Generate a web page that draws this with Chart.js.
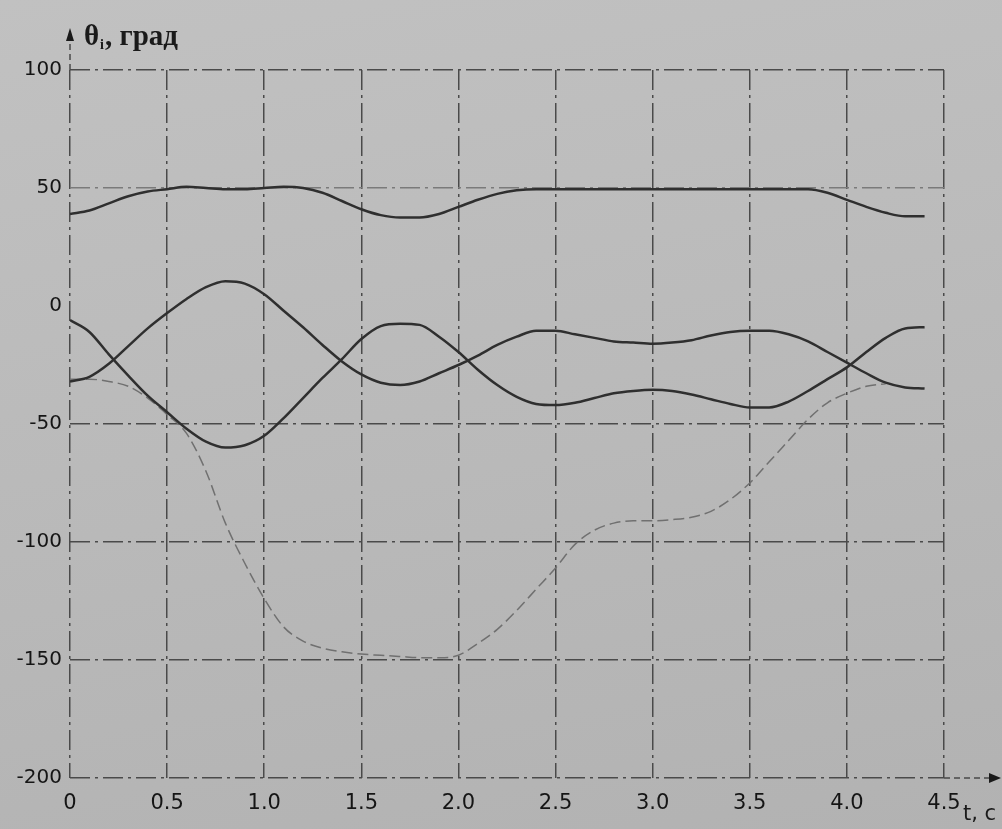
<!DOCTYPE html>
<html>
<head>
<meta charset="utf-8">
<script src="https://cdn.jsdelivr.net/npm/chart.js@4.4.1/dist/chart.umd.min.js"></script>
<style>
  html, body { margin: 0; padding: 0; }
  body { width: 1002px; height: 829px; background: linear-gradient(170deg, #c1c1c1 0%, #b9b9b9 55%, #b2b2b2 100%); }
  canvas { display: block; }
</style>
</head>
<body>
<canvas id="chart" width="1002" height="829"></canvas>
<script>
// time axis, s
const tValues = [0, 0.1, 0.2, 0.3, 0.4, 0.5, 0.6, 0.7, 0.8, 0.9, 1.0, 1.1, 1.2, 1.3, 1.4, 1.5,
  1.6, 1.7, 1.8, 1.9, 2.0, 2.1, 2.2, 2.3, 2.4, 2.5, 2.6, 2.7, 2.8, 2.9, 3.0, 3.1, 3.2, 3.3,
  3.4, 3.5, 3.6, 3.7, 3.8, 3.9, 4.0, 4.1, 4.2, 4.3, 4.4];

// upper curve (~50 deg)
const theta1 = [39, 40.5, 43.5, 46.5, 48.5, 49.5, 50.5, 50, 49.5, 49.5, 50, 50.5, 50, 48, 44.5, 41,
  38.5, 37.5, 37.5, 39, 42, 45, 47.5, 49, 49.5, 49.5, 49.5, 49.5, 49.5, 49.5, 49.5, 49.5, 49.5, 49.5,
  49.5, 49.5, 49.5, 49.5, 49.5, 48, 45, 42, 39.5, 38, 38];

// curve starting at -32
const theta2 = [-32, -30, -24.5, -17, -9.5, -3, 3, 8, 10.5, 9.5, 5, -2, -9, -16.5, -23.5, -29,
  -32.5, -33.5, -32, -28.5, -25, -21, -16.5, -13, -10.5, -10.5, -12, -13.5, -15, -15.5, -16, -15.5, -14.5, -12.5,
  -11, -10.5, -10.5, -12, -15, -19.5, -24, -28.5, -32.5, -34.5, -35];

// curve starting at -6
const theta3 = [-6, -11, -20.5, -29.5, -38, -45, -52, -57.5, -60, -59, -55, -47.5, -39, -30.5, -22.5, -14,
  -8.5, -7.5, -8, -13, -19.5, -27, -33.5, -38.5, -41.5, -42, -41, -39, -37, -36, -35.5, -36, -37.5, -39.5,
  -41.5, -43, -43, -40.5, -36, -31, -26, -19.5, -13.5, -9.5, -9];

// dashed curve (down to -150 and back)
const tDashed = [0, 0.1, 0.2, 0.3, 0.4, 0.5, 0.6, 0.7, 0.8, 0.9, 1.0, 1.1, 1.2, 1.3, 1.4, 1.5,
  1.6, 1.7, 1.8, 1.9, 2.0, 2.1, 2.2, 2.3, 2.4, 2.5, 2.6, 2.7, 2.8, 2.9, 3.0, 3.1, 3.2, 3.3,
  3.4, 3.5, 3.6, 3.7, 3.8, 3.9, 4.0, 4.1, 4.2];
const theta4 = [-31, -31, -32, -34, -39, -46, -54, -70, -92, -109, -124, -136, -142, -145, -146.5, -147.5,
  -148, -148.5, -149, -149, -148, -143, -137, -129, -120, -111, -101, -95, -92, -91, -91, -90.5, -89.5, -87,
  -82, -75, -66, -57, -48, -41, -37, -34, -33];

const xTicks = [0, 0.5, 1.0, 1.5, 2.0, 2.5, 3.0, 3.5, 4.0, 4.5];
const xTickLabels = ['0', '0.5', '1.0', '1.5', '2.0', '2.5', '3.0', '3.5', '4.0', '4.5'];
const yTicks = [100, 50, 0, -50, -100, -150, -200];
const yTickLabels = ['100', '50', '0', '-50', '-100', '-150', '-200'];

const INK = '#2f2f2f';
const GRID = '#4a4a4a';
const DASHDOT = [20, 5, 3, 5];

const toPoints = (xs, ys) => xs.map((x, i) => ({ x, y: ys[i] }));

const solid = (data) => ({
  data, borderColor: INK, borderWidth: 2.5, pointRadius: 0,
  cubicInterpolationMode: 'monotone', fill: false,
});

// axis arrows, title and unit text
const decorPlugin = {
  id: 'decor',
  afterDraw(chart) {
    const { ctx, chartArea, scales: { x, y } } = chart;
    const x0 = x.getPixelForValue(0);
    const yb = y.getPixelForValue(-200);
    ctx.save();
    ctx.strokeStyle = GRID;
    ctx.fillStyle = '#1a1a1a';
    ctx.lineWidth = 1.5;
    ctx.setLineDash([6, 4]);
    // y axis stub up to arrow
    ctx.beginPath();
    ctx.moveTo(x0, chartArea.top);
    ctx.lineTo(x0, 40);
    ctx.stroke();
    // x axis stub to the right
    ctx.beginPath();
    ctx.moveTo(chartArea.right, yb);
    ctx.lineTo(992, yb);
    ctx.stroke();
    ctx.setLineDash([]);
    // arrowheads
    ctx.beginPath();
    ctx.moveTo(x0, 28); ctx.lineTo(x0 - 4, 41); ctx.lineTo(x0 + 4, 41); ctx.closePath();
    ctx.fill();
    ctx.beginPath();
    ctx.moveTo(1001, yb); ctx.lineTo(989, yb - 5); ctx.lineTo(989, yb + 5); ctx.closePath();
    ctx.fill();
    // title
    ctx.fillStyle = '#1a1a1a';
    ctx.textBaseline = 'alphabetic';
    ctx.font = 'bold 29px "Liberation Serif", serif';
    ctx.fillText('θ', 84, 45);
    ctx.font = 'bold 14px "Liberation Serif", serif';
    ctx.fillText('i', 100, 49);
    ctx.font = 'bold 29px "Liberation Serif", serif';
    ctx.fillText(', град', 105, 45);
    // time unit
    ctx.font = '21px "DejaVu Sans", sans-serif';
    ctx.fillText('t, c', 963, 820);
    ctx.restore();
  }
};

new Chart(document.getElementById('chart'), {
  type: 'line',
  data: {
    datasets: [
      solid(toPoints(tValues, theta1)),
      solid(toPoints(tValues, theta2)),
      solid(toPoints(tValues, theta3)),
      {
        data: toPoints(tDashed, theta4), borderColor: '#707070', borderWidth: 1.5,
        borderDash: [11, 5], pointRadius: 0, cubicInterpolationMode: 'monotone', fill: false,
      },
    ],
  },
  options: {
    responsive: false,
    animation: false,
    layout: { padding: { top: 70, right: 58, left: 0, bottom: 0 } },
    plugins: { legend: { display: false }, tooltip: { enabled: false } },
    scales: {
      x: {
        type: 'linear', min: 0, max: 4.5,
        afterBuildTicks: s => { s.ticks = xTicks.map(v => ({ value: v })); },
        afterFit: s => { s.height = 51; },
        ticks: {
          autoSkip: false, maxRotation: 0, padding: 13, color: '#151515',
          font: { family: '"DejaVu Sans", sans-serif', size: 21 },
          callback: (v, i) => xTickLabels[i],
        },
        grid: { color: GRID, lineWidth: 1.5, drawTicks: false },
        border: { display: false, dash: DASHDOT },
      },
      y: {
        min: -200, max: 100,
        afterBuildTicks: s => { s.ticks = yTicks.map(v => ({ value: v })); },
        afterFit: s => { s.width = 70; },
        ticks: {
          autoSkip: false, padding: 8, color: '#151515',
          font: { family: '"DejaVu Sans", sans-serif', size: 20 },
          callback: (v, i) => yTickLabels[i],
        },
        grid: {
          drawTicks: false, lineWidth: 1.5,
          color: c => c.tick && c.tick.value === 0 ? 'rgba(0,0,0,0)'
            : (c.tick && c.tick.value === 50 ? '#7a7a7a' : GRID),
        },
        border: { display: false, dash: DASHDOT },
      },
    },
  },
  plugins: [decorPlugin],
});
</script>
</body>
</html>
